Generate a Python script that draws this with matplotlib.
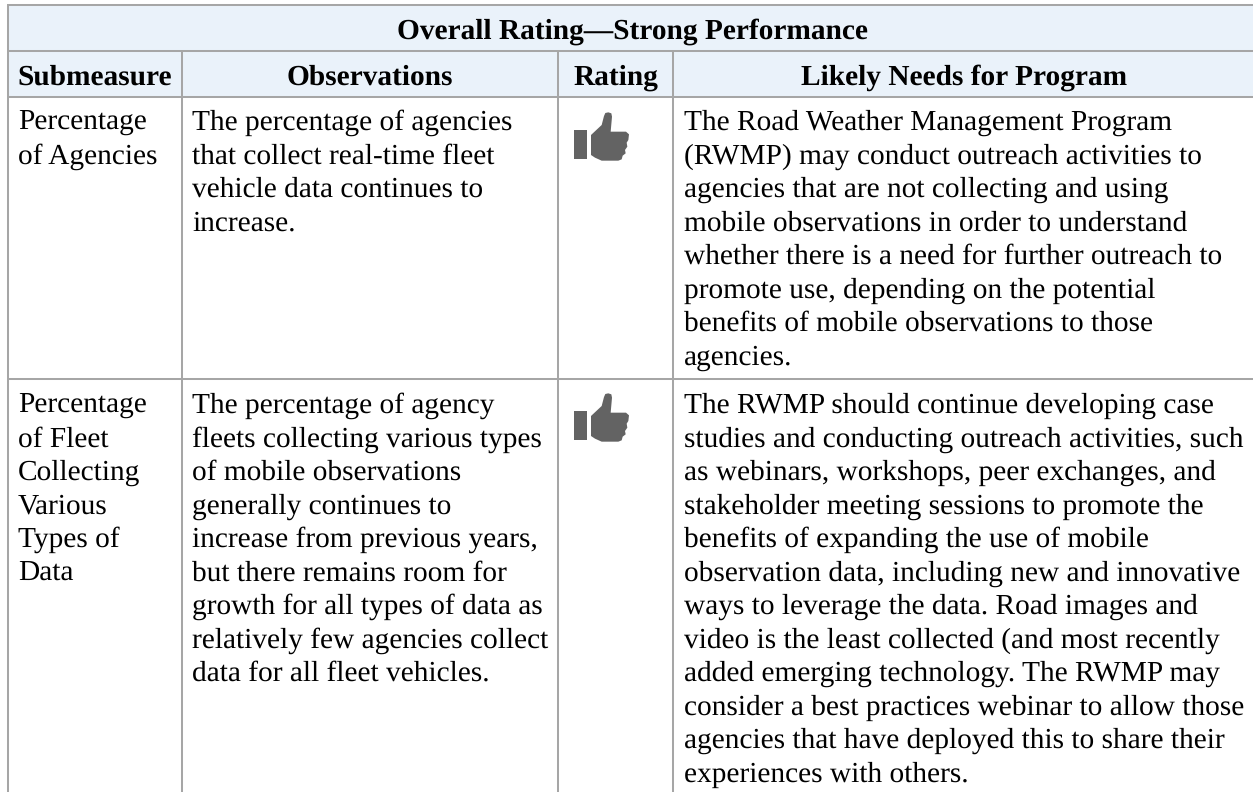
import matplotlib
matplotlib.use('Agg')
import matplotlib.pyplot as plt
from matplotlib.path import Path
from matplotlib.patches import PathPatch, Rectangle

plt.rcParams['font.family'] = ['Liberation Serif', 'DejaVu Serif']
plt.rcParams['text.hinting'] = 'none'

title = 'Overall Rating\u2014Strong Performance'
headers = ['Submeasure', 'Observations', 'Rating', 'Likely Needs for Program']

submeasure = [
    ['Percentage', 'of Agencies'],
    ['Percentage', 'of Fleet', 'Collecting', 'Various', 'Types of', 'Data'],
]
observations = [
    ['The percentage of agencies',
     'that collect real-time fleet',
     'vehicle data continues to',
     'increase.'],
    ['The percentage of agency',
     'fleets collecting various types',
     'of mobile observations',
     'generally continues to',
     'increase from previous years,',
     'but there remains room for',
     'growth for all types of data as',
     'relatively few agencies collect',
     'data for all fleet vehicles.'],
]
needs = [
    ['The Road Weather Management Program',
     '(RWMP) may conduct outreach activities to',
     'agencies that are not collecting and using',
     'mobile observations in order to understand',
     'whether there is a need for further outreach to',
     'promote use, depending on the potential',
     'benefits of mobile observations to those',
     'agencies.'],
    ['The RWMP should continue developing case',
     'studies and conducting outreach activities, such',
     'as webinars, workshops, peer exchanges, and',
     'stakeholder meeting sessions to promote the',
     'benefits of expanding the use of mobile',
     'observation data, including new and innovative',
     'ways to leverage the data. Road images and',
     'video is the least collected (and most recently',
     'added emerging technology. The RWMP may',
     'consider a best practices webinar to allow those',
     'agencies that have deployed this to share their',
     'experiences with others.'],
]

W, H = 1253, 792
FS = 21.2
LINE = 33.5
GREY = '#a6a6a6'
HEAD = '#eaf2fa'

col_x = [8, 182, 558, 673]
row_y = [5, 51, 97, 379]
row_base = [130, 413]

fig = plt.figure(figsize=(W / 100, H / 100), dpi=100)
ax = fig.add_axes([0, 0, 1, 1])
ax.set_xlim(0, W)
ax.set_ylim(H, 0)
ax.axis('off')

# header background
ax.add_patch(Rectangle((col_x[0], row_y[0]), W - col_x[0], row_y[2] - row_y[0], fc=HEAD, ec='none'))

# grid lines
for y in row_y:
    ax.plot([col_x[0] - 1, W], [y, y], color=GREY, lw=1.45, solid_capstyle='butt')
ax.plot([col_x[0], col_x[0]], [row_y[0], H], color=GREY, lw=1.45, solid_capstyle='butt')
for x in col_x[1:]:
    ax.plot([x, x], [row_y[1], H], color=GREY, lw=1.45, solid_capstyle='butt')

# header text
ax.text(632, 38.5, title, fontsize=FS, fontweight='bold', ha='center', va='baseline', color='black')
head_cx = [95, 370, 615.5, 964.5]
for cx, h in zip(head_cx, headers):
    ax.text(cx, 85, h, fontsize=FS, fontweight='bold', ha='center', va='baseline', color='black')

# body text
for col, left in zip([submeasure, observations, needs], [18, 192, 684]):
    for r, lines in enumerate(col):
        for i, line in enumerate(lines):
            ax.text(left, row_base[r] + i * LINE, line, fontsize=FS, ha='left', va='baseline', color='black')


def thumb(y0):
    x0 = 480
    ax.add_patch(Rectangle((x0 + 281 / 3, y0 + 120 / 3), 40 / 3, 87 / 3, fc='#636363', ec='none'))
    pts = [(333, 135), (365, 105), (372, 78), (376, 69), (385, 67), (394, 70), (396, 80), (392, 125),
           (438, 125), (447, 133), (445, 150), (440, 158), (442, 170), (435, 180), (437, 190),
           (428, 197), (425, 208), (415, 212), (365, 212), (345, 203), (333, 195), (333, 135)]
    verts = [(x0 + a / 3, y0 + b / 3) for a, b in pts]
    codes = [Path.MOVETO] + [Path.LINETO] * (len(verts) - 2) + [Path.CLOSEPOLY]
    ax.add_patch(PathPatch(Path(verts, codes), fc='#636363', ec='none'))


thumb(90)
thumb(371)

fig.savefig('out.png', dpi=100)
